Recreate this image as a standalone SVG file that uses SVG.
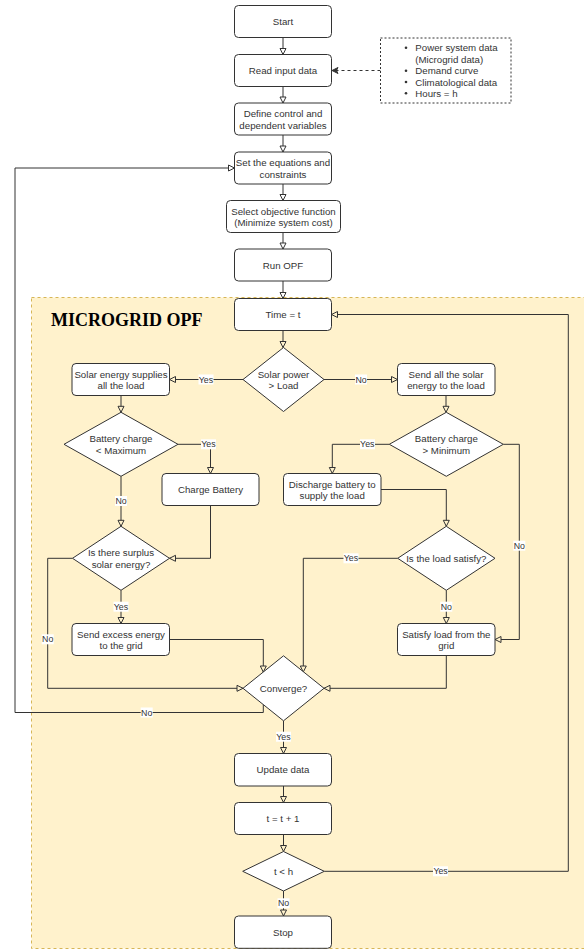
<svg xmlns="http://www.w3.org/2000/svg" width="584" height="949" viewBox="0 0 584 949">
<style>
.box{fill:#fff;stroke:#333;stroke-width:1}
.dia{fill:#fff;stroke:#333;stroke-width:1}
.t{font-family:"Liberation Sans",Arial,sans-serif;font-size:9.7px;fill:#333;text-anchor:middle}
.tl{font-family:"Liberation Sans",Arial,sans-serif;font-size:9.7px;fill:#333}
.e{fill:none;stroke:#333;stroke-width:1}
.ew{marker-end:url(#aw)}
.ey{marker-end:url(#ay)}
.lb{fill:#fff}
.l{font-family:"Liberation Sans",Arial,sans-serif;font-size:8.8px;fill:#333;text-anchor:middle}
</style>
<defs>
<marker id="aw" markerUnits="userSpaceOnUse" markerWidth="8" markerHeight="8" viewBox="0 0 8 8" refX="7" refY="4" orient="auto">
<path d="M1,1 L7,4 L1,7 Z" fill="#fff" stroke="#333" stroke-width="1"/>
</marker>
<marker id="ay" markerUnits="userSpaceOnUse" markerWidth="8" markerHeight="8" viewBox="0 0 8 8" refX="7" refY="4" orient="auto">
<path d="M1,1 L7,4 L1,7 Z" fill="#fff2cc" stroke="#333" stroke-width="1"/>
</marker>
<marker id="af" markerUnits="userSpaceOnUse" markerWidth="8" markerHeight="8" viewBox="0 0 8 8" refX="7" refY="4" orient="auto">
<path d="M1,1 L7,4 L1,7 L2.5,4 Z" fill="#333" stroke="#333" stroke-width="1"/>
</marker>
</defs>
<rect width="584" height="949" fill="#fff"/>

<g id="container">
<rect x="31.5" y="297.5" width="560" height="651" fill="#fff2cc" stroke="#d6b656" stroke-width="1" stroke-dasharray="3,3"/>
<text x="51" y="326" font-family="Liberation Serif,'Times New Roman',serif" font-size="18" font-weight="bold" fill="#000">MICROGRID OPF</text>
</g>

<g id="connectors">
<path class="e ew" d="M283,37.5 V54.5"/>
<path class="e ew" d="M283,86.5 V103"/>
<path class="e ew" d="M283,135 V152"/>
<path class="e ew" d="M283,184 V200.5"/>
<path class="e ew" d="M283,232.5 V249"/>
<path class="e ew" d="M283,281 V298.5"/>
<path class="e ey" d="M283,330.5 V347.5"/>
<path class="e ey" d="M243,379.5 H169.5"/>
<path class="e ey" d="M324,379.5 H397.5"/>
<path class="e ey" d="M121,395.5 V412.3"/>
<path class="e ey" d="M446,395.5 V412.3"/>
<path class="e ey" d="M178,444.3 H210.5 V473.5"/>
<path class="e ey" d="M121,476.3 V526.3"/>
<path class="e ey" d="M210.5,505.5 V558.3 H169.5"/>
<path class="e ey" d="M121,590.3 V623.5"/>
<path class="e ey" d="M72.5,558.3 H47.7 V688.3 H243"/>
<path class="e ey" d="M169.5,639.5 H263.3 V672"/>
<path class="e ey" d="M389.3,444.3 H332.3 V473.5"/>
<path class="e ey" d="M503.3,444.3 H519.3 V639.5 H495"/>
<path class="e ey" d="M381,489.5 H446.3 V526.3"/>
<path class="e ey" d="M397.7,558.3 H303.3 V672"/>
<path class="e ey" d="M446.3,590.3 V623.5"/>
<path class="e ey" d="M446.3,655.5 V688.3 H324"/>
<path class="e ew" d="M263.3,704.5 V712.5 H15 V168 H234.5"/>
<path class="e ey" d="M283.5,720.8 V753.5"/>
<path class="e ey" d="M283.5,786 V802.5"/>
<path class="e ey" d="M283.5,834.5 V851.5"/>
<path class="e ey" d="M324.3,871.3 H568.3 V314.5 H331.5"/>
<path class="e ey" d="M283.5,891 V916"/>
<path class="e" d="M380.5,70.5 H332" stroke-dasharray="3,3" marker-end="url(#af)"/>
<g id="edge-labels">
<rect class="lb" x="198.5" y="374.5" width="15" height="10"/><text class="l" x="206" y="382.5">Yes</text>
<rect class="lb" x="355" y="374.5" width="12" height="10"/><text class="l" x="361" y="382.5">No</text>
<rect class="lb" x="201" y="439.3" width="15" height="10"/><text class="l" x="208.5" y="447.3">Yes</text>
<rect class="lb" x="115" y="496" width="12" height="10"/><text class="l" x="121" y="504">No</text>
<rect class="lb" x="113.5" y="601.7" width="15" height="10"/><text class="l" x="121" y="609.7">Yes</text>
<rect class="lb" x="41.7" y="634.3" width="12" height="10"/><text class="l" x="47.7" y="642.3">No</text>
<rect class="lb" x="360" y="439.3" width="15" height="10"/><text class="l" x="367.3" y="447.3">Yes</text>
<rect class="lb" x="513.3" y="540.7" width="12" height="10"/><text class="l" x="519.3" y="548.7">No</text>
<rect class="lb" x="343.5" y="553.3" width="15" height="10"/><text class="l" x="351" y="561.3">Yes</text>
<rect class="lb" x="440.3" y="601.7" width="12" height="10"/><text class="l" x="446.3" y="609.7">No</text>
<rect class="lb" x="140.7" y="707.5" width="12" height="10"/><text class="l" x="146.7" y="715.5">No</text>
<rect class="lb" x="276" y="731.7" width="15" height="10"/><text class="l" x="283.5" y="739.7">Yes</text>
<rect class="lb" x="433" y="866.3" width="15" height="10"/><text class="l" x="440.6" y="874.3">Yes</text>
<rect class="lb" x="277.5" y="898.3" width="12" height="10"/><text class="l" x="283.5" y="906.3">No</text>
</g>
</g>

<g id="start"><rect class="box" x="234.5" y="5.5" width="97" height="32" rx="4"/><text class="t" x="283" y="25">Start</text></g>
<g id="read"><rect class="box" x="234.5" y="54.5" width="97" height="32" rx="4"/><text class="t" x="283" y="74">Read input data</text></g>
<g id="inputs">
<rect x="380.5" y="38" width="130.5" height="65" fill="#fff" stroke="#333" stroke-dasharray="2,2"/>
<circle cx="406" cy="47.7" r="1.3" fill="#333"/><text class="tl" x="415.3" y="51.2">Power system data</text>
<text class="tl" x="415.3" y="62.8">(Microgrid data)</text>
<circle cx="406" cy="70.7" r="1.3" fill="#333"/><text class="tl" x="415.3" y="74.2">Demand curve</text>
<circle cx="406" cy="82" r="1.3" fill="#333"/><text class="tl" x="415.3" y="85.5">Climatological data</text>
<circle cx="406" cy="93.3" r="1.3" fill="#333"/><text class="tl" x="415.3" y="96.8">Hours = h</text>
</g>
<g id="define"><rect class="box" x="234.5" y="103" width="97" height="32" rx="4"/><text class="t" x="283" y="117.2">Define control and</text><text class="t" x="283" y="128.5">dependent variables</text></g>
<g id="set"><rect class="box" x="234.5" y="152" width="97" height="32" rx="4"/><text class="t" x="283" y="166.2">Set the equations and</text><text class="t" x="283" y="177.5">constraints</text></g>
<g id="select"><rect class="box" x="226.5" y="200.5" width="114" height="32" rx="4"/><text class="t" x="283.5" y="214.8">Select objective function</text><text class="t" x="283.5" y="226.2">(Minimize system cost)</text></g>
<g id="run"><rect class="box" x="234.5" y="249" width="97" height="32" rx="4"/><text class="t" x="283" y="268.5">Run OPF</text></g>
<g id="time"><rect class="box" x="234.5" y="298.5" width="97" height="32" rx="4"/><text class="t" x="283" y="318">Time = t</text></g>
<g id="solar"><path class="dia" d="M283.5,347.5 L324,379.5 L283.5,411.5 L243,379.5 Z"/><text class="t" x="283.5" y="377.5">Solar power</text><text class="t" x="283.5" y="388.8">&gt; Load</text></g>
<g id="solarbox"><rect class="box" x="72" y="363.5" width="97.5" height="32" rx="4"/><text class="t" x="121" y="377.5">Solar energy supplies</text><text class="t" x="121" y="388.8">all the load</text></g>
<g id="sendall"><rect class="box" x="397.5" y="363.5" width="97.5" height="32" rx="4"/><text class="t" x="446" y="377.5">Send all the solar</text><text class="t" x="446" y="388.8">energy to the load</text></g>
<g id="batmax"><path class="dia" d="M121,412.3 L178,444.3 L121,476.3 L64,444.3 Z"/><text class="t" x="121" y="442.3">Battery charge</text><text class="t" x="121" y="453.6">&lt; Maximum</text></g>
<g id="batmin"><path class="dia" d="M446.3,412.3 L503.3,444.3 L446.3,476.3 L389.3,444.3 Z"/><text class="t" x="446.3" y="442.3">Battery charge</text><text class="t" x="446.3" y="453.6">&gt; Minimum</text></g>
<g id="charge"><rect class="box" x="162" y="473.5" width="97" height="32" rx="4"/><text class="t" x="210.5" y="493">Charge Battery</text></g>
<g id="discharge"><rect class="box" x="283.5" y="473.5" width="97.5" height="32" rx="4"/><text class="t" x="332.2" y="487.5">Discharge battery to</text><text class="t" x="332.2" y="498.8">supply the load</text></g>
<g id="surplus"><path class="dia" d="M121,526.3 L169.5,558.3 L121,590.3 L72.5,558.3 Z"/><text class="t" x="121" y="556.3">Is there surplus</text><text class="t" x="121" y="567.6">solar energy?</text></g>
<g id="loadsat"><path class="dia" d="M446.3,526.3 L495,558.3 L446.3,590.3 L397.7,558.3 Z"/><text class="t" x="446.3" y="561.8">Is the load satisfy?</text></g>
<g id="excess"><rect class="box" x="72" y="623.5" width="97.5" height="32" rx="4"/><text class="t" x="121" y="637.5">Send excess energy</text><text class="t" x="121" y="648.8">to the grid</text></g>
<g id="grid"><rect class="box" x="397.5" y="623.5" width="97.5" height="32" rx="4"/><text class="t" x="446.3" y="637.5">Satisfy load from the</text><text class="t" x="446.3" y="648.8">grid</text></g>
<g id="converge"><path class="dia" d="M283.5,655.8 L324,688.3 L283.5,720.8 L243,688.3 Z"/><text class="t" x="283.5" y="691.8">Converge?</text></g>
<g id="update"><rect class="box" x="234.5" y="753.5" width="97" height="32.5" rx="4"/><text class="t" x="283" y="773.2">Update data</text></g>
<g id="tplus"><rect class="box" x="234.5" y="802.5" width="97" height="32" rx="4"/><text class="t" x="283" y="822">t = t + 1</text></g>
<g id="tlh"><path class="dia" d="M283.5,851.5 L324.3,871.3 L283.5,891 L242.7,871.3 Z"/><text class="t" x="283.5" y="874.8">t &lt; h</text></g>
<g id="stop"><rect class="box" x="234.5" y="916" width="97" height="32.3" rx="4"/><text class="t" x="283" y="935.6">Stop</text></g>
</svg>
